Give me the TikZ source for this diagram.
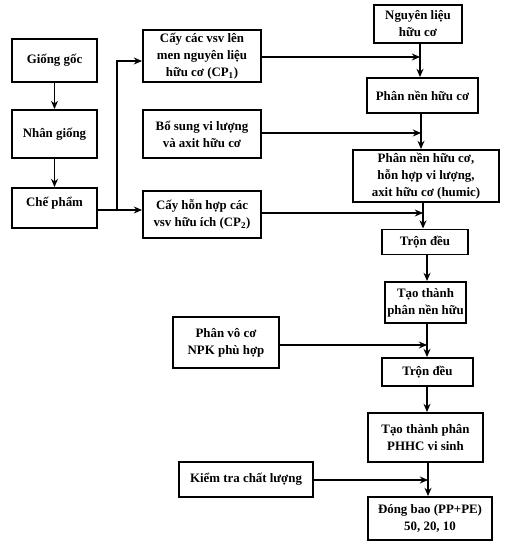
\documentclass[tikz,border=0pt]{standalone}
\usepackage{fontspec}
\setmainfont{Liberation Serif}
\usepackage{tikz}
\usetikzlibrary{arrows.meta}

\tikzset{
    stepbox/.style={
        draw,
        line width=1.7pt,
        align=center,
        font=\bfseries\fontsize{11}{14.5}\selectfont,
        inner sep=1pt
    },
    flow/.style={
        -{Stealth[length=7pt,width=6pt]},
        line width=1.1pt
    }
}

\begin{document}
\begin{tikzpicture}[x=0.03cm, y=-0.03cm]

\useasboundingbox (0,0) rectangle (504,545);

% Cột trái

\node[stepbox, minimum width=85*0.03cm, minimum height=43*0.03cm]
    (goc) at (54.5,60.5) {Giống gốc};
\node[stepbox, minimum width=85*0.03cm, minimum height=48*0.03cm]
    (nhan) at (54.5,134) {Nhân giống};
\node[stepbox, minimum width=85*0.03cm, minimum height=40*0.03cm,
    text depth=10pt]
    (che) at (54.5,208) {Chế phẩm};

\draw[flow] (goc) -- (nhan);
\draw[flow] (nhan) -- (che);


% Cột giữa

\node[stepbox, minimum width=118*0.03cm, minimum height=52*0.03cm]
    (cp1) at (202,56) {Cấy các vsv lên\\men nguyên liệu\\hữu cơ (CP\textsubscript{1})};
\node[stepbox, minimum width=118*0.03cm, minimum height=48*0.03cm]
    (bosung) at (202,134) {Bổ sung vi lượng\\và axit hữu cơ};
\node[stepbox, minimum width=118*0.03cm, minimum height=47*0.03cm]
    (cp2) at (202,214.5) {Cấy hỗn hợp các\\vsv hữu ích (CP\textsubscript{2})};

\coordinate (re) at (117,210);
\coordinate (ren) at (117,61);
\draw[line width=1.1pt] (che.east |- re) -- (re);
\draw[flow] (re) -- (ren) -- (cp1.west |- ren);
\draw[flow] (re) -- (cp2.west |- re);


% Cột phải

\node[stepbox, minimum width=88*0.03cm, minimum height=38*0.03cm]
    (nglieu) at (418,24) {Nguyên liệu\\hữu cơ};
\node[stepbox, minimum width=111*0.03cm, minimum height=35*0.03cm]
    (phannen) at (422.5,95.5) {Phân nền hữu cơ};
\node[stepbox, minimum width=146*0.03cm, minimum height=52*0.03cm]
    (honhop) at (426,176) {Phân nền hữu cơ,\\hỗn hợp vi lượng,\\axit hữu cơ (humic)};
\node[stepbox, minimum width=86*0.03cm, minimum height=25*0.03cm]
    (tron1) at (425,242) {Trộn đều};
\node[stepbox, minimum width=81*0.03cm, minimum height=41*0.03cm]
    (taothanh) at (425.5,302.5) {Tạo thành\\phân nền hữu};
\node[stepbox, minimum width=91*0.03cm, minimum height=28*0.03cm]
    (tron2) at (427.5,372) {Trộn đều};
\node[stepbox, minimum width=115*0.03cm, minimum height=49*0.03cm]
    (phhc) at (425.5,437.5) {Tạo thành phân\\PHHC vi sinh};
\node[stepbox, minimum width=124*0.03cm, minimum height=43*0.03cm]
    (dongbao) at (430,518.5) {Đóng bao (PP+PE)\\50, 20, 10};

\node[stepbox, minimum width=106*0.03cm, minimum height=51*0.03cm]
    (vococ) at (226,342.5) {Phân vô cơ\\NPK phù hợp};
\node[stepbox, minimum width=134*0.03cm, minimum height=35*0.03cm]
    (kiemtra) at (246,479.5) {Kiểm tra chất lượng};


% Nối dọc

\coordinate (j1) at (420,57);
\coordinate (j2) at (421,133);
\coordinate (j3) at (423,213);
\coordinate (j4) at (427,345);
\coordinate (j5) at (428,480);

\draw[flow] (nglieu.south -| j1) -- (phannen.north -| j1);
\draw[flow] (phannen.south -| j2) -- (honhop.north -| j2);
\draw[flow] (honhop.south -| j3) -- (tron1.north -| j3);
\draw[flow] (tron1.south -| j4) -- (taothanh.north -| j4);
\draw[flow] (taothanh.south -| j4) -- (tron2.north -| j4);
\draw[flow] (tron2.south -| j4) -- (phhc.north -| j4);
\draw[flow] (phhc.south -| j5) -- (dongbao.north -| j5);


% Nối ngang

\draw[flow] (cp1.east |- j1) -- (j1);
\draw[flow] (bosung.east |- j2) -- (j2);
\draw[flow] (cp2.east |- j3) -- (j3);
\draw[flow] (vococ.east |- j4) -- (j4);
\draw[flow] (kiemtra.east |- j5) -- (j5);

\end{tikzpicture}
\end{document}
